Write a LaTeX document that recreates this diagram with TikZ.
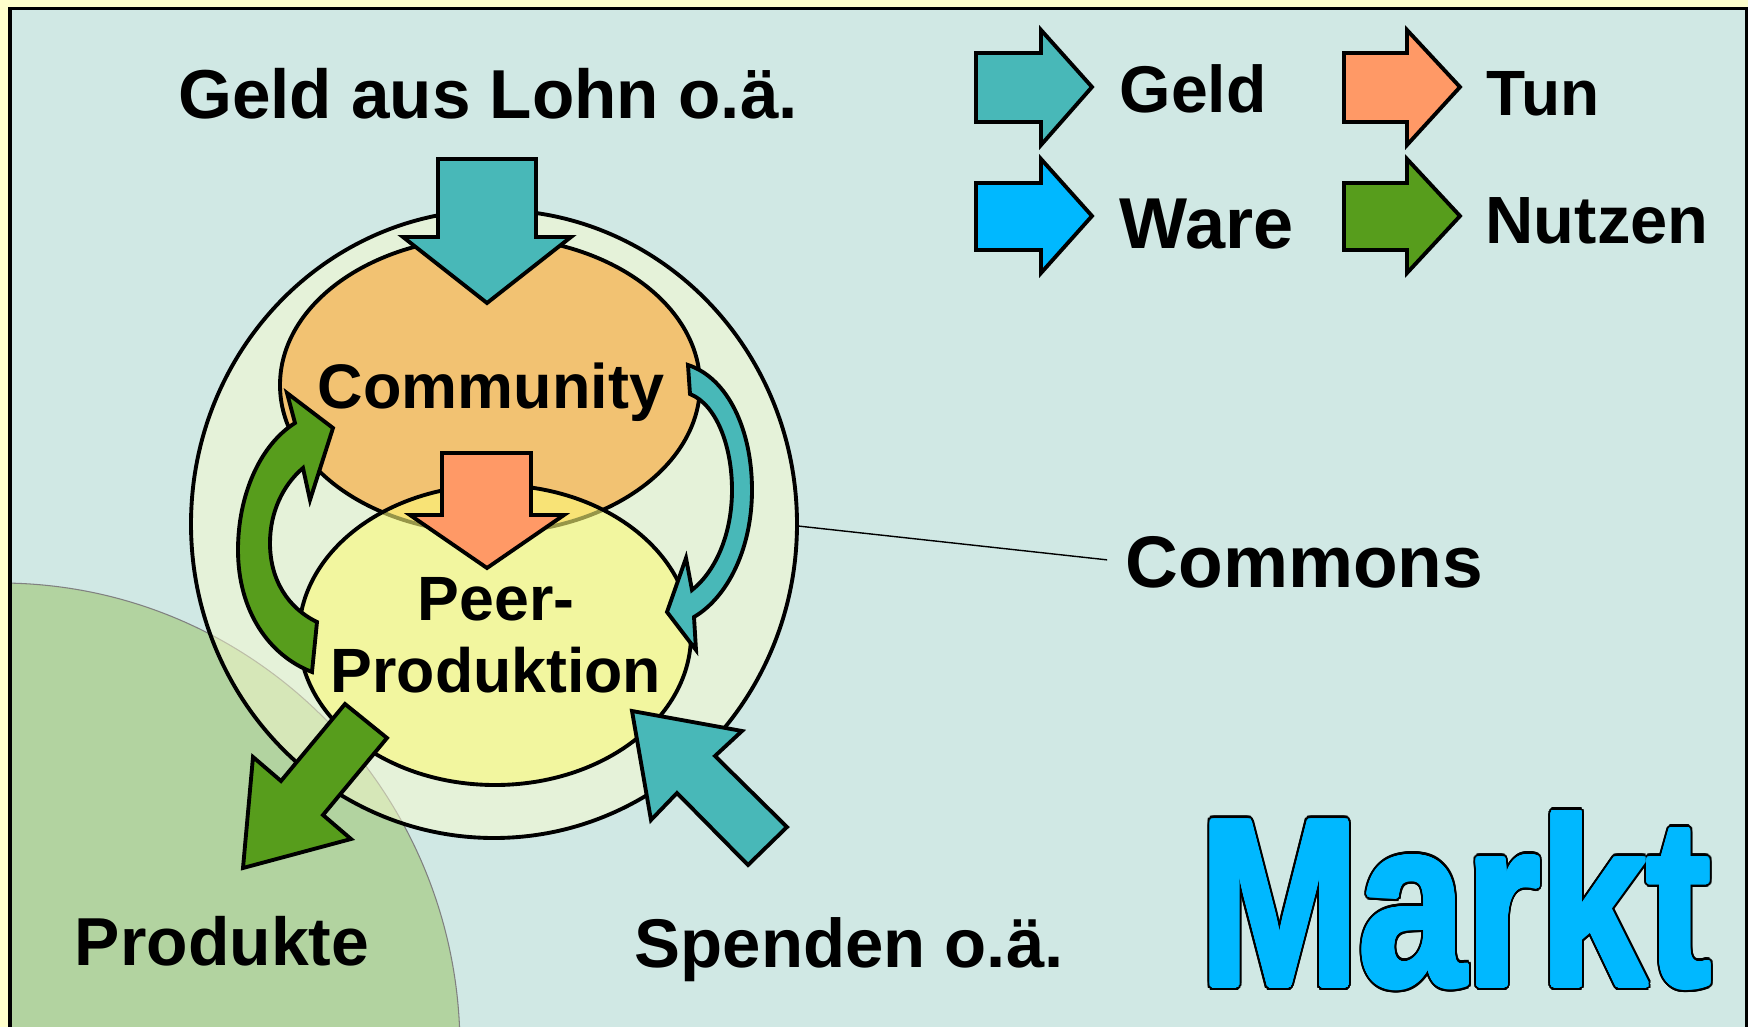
\documentclass[tikz,border=0pt]{standalone}
\usepackage{fontspec}
\setmainfont{Liberation Sans}
\usepackage{graphicx}
\usepackage[copies]{contour}
\contournumber{32}

\definecolor{margin}{HTML}{FFFFCC}
\definecolor{panel}{HTML}{D0E8E4}
\definecolor{geld}{HTML}{48B8B8}
\definecolor{tun}{HTML}{FF9966}
\definecolor{ware}{HTML}{00B8FF}
\definecolor{nutzen}{HTML}{579D1C}
\definecolor{community}{HTML}{F2C272}
\definecolor{peer}{HTML}{FCFA79}
\definecolor{commons}{HTML}{FAFCD0}
\definecolor{produkte}{HTML}{B2D3A0}

\tikzset{
    blockarrow/.style={draw=black, line width=1.1pt},
    outline/.style={draw=black, line width=1.1pt},
    textlabel/.style={inner sep=0pt, anchor=base, font=\fontsize{#1}{#1}\selectfont\bfseries},
}

\begin{document}
\begin{tikzpicture}[x=0.01cm, y=-0.01cm]
    \useasboundingbox (0,0) rectangle (1748,1027);
    \fill[margin] (0,0) rectangle (1748,1027);

    % panel and Produkte area
    \begin{scope}
        \clip (10,8.5) rectangle (1746.5,1027);
        \fill[panel] (10,8.5) rectangle (1746.5,1040);
        \draw[fill=produkte, draw=gray, line width=0.3pt] (0,1048) ellipse [x radius=460, y radius=465];
    \end{scope}
    \draw[line width=0.9pt] (10,1040) -- (10,8.5) -- (1746.5,8.5) -- (1746.5,1040);

    % Commons, Community, Peer-Produktion
    \draw[outline, fill=commons, fill opacity=0.5] (494,524) ellipse [x radius=303, y radius=314];
    \coordinate (commonsedge) at (798,526);
    \draw[outline, fill=community] (490,385) ellipse [x radius=210, y radius=148];
    \draw[outline, fill=peer, fill opacity=0.6] (495,635) ellipse [x radius=196, y radius=150];

    % Tun
    \draw[blockarrow, fill=tun] (442,453) -- (531,453) -- (531,515) -- (564,515) -- (487,568) -- (410,515) -- (442,515) -- cycle;
    % Geld aus Lohn
    \draw[blockarrow, fill=geld] (438,159) -- (536,159) -- (536,237) -- (571,237) -- (487,303) -- (403,237) -- (438,237) -- cycle;

    % Nutzen back to Community
    \draw[blockarrow, fill=nutzen] (312,672) .. controls (268,655) and (238,610) .. (238,550)
        .. controls (238,495) and (260,445) .. (295,423) -- (287,393) -- (333,428) -- (310,500) -- (303,468)
        .. controls (283,485) and (270,512) .. (270,543) .. controls (270,580) and (288,608) .. (317,622) -- cycle;
    % Geld from Community to Peer-Produktion
    \draw[blockarrow, fill=geld] (688,365) .. controls (728,378) and (752,430) .. (752,490)
        .. controls (752,548) and (728,597) .. (694,617) -- (696,650) -- (667,612) -- (686,558) -- (692,590)
        .. controls (717,570) and (732,532) .. (732,490) .. controls (732,447) and (717,405) .. (690,394) -- cycle;

    % Produkte and Spenden
    \draw[blockarrow, fill=nutzen] (345,704) -- (387,738) -- (323,815) -- (351,839) -- (243,868) -- (253,757) -- (281,781) -- cycle;
    \draw[blockarrow, fill=geld] (632,711) -- (742,731) -- (715,756) -- (787,827) -- (748,865) -- (677,793) -- (651,820) -- cycle;

    % labels
    \node[textlabel=19.7] (lohn) at (488,118) {Geld aus Lohn o.ä.};
    \node[textlabel=17.9] (community) at (491,408) {Community};
    \node[inner sep=0pt, align=center, font=\fontsize{17.8}{20.5}\selectfont\bfseries] (peer) at (496,635) {Peer-\\Produktion};
    \node[textlabel=20.8, anchor=base west] (commonstext) at (1125,587) {Commons};
    \draw[line width=0.4pt, shorten >=0.18cm] (commonsedge) -- (commonstext.west);
    \node[textlabel=19.3] (produkte) at (222,965) {Produkte};
    \node[textlabel=19.6, anchor=base west] (spenden) at (634,967) {Spenden o.ä.};

    % legend
    \draw[blockarrow, fill=geld] (976,53) -- (1041,53) -- (1041,30) -- (1092,87) -- (1041,145) -- (1041,122) -- (976,122) -- cycle;
    \draw[blockarrow, fill=tun] (1344,53) -- (1407,53) -- (1407,30) -- (1460,87) -- (1407,145) -- (1407,122) -- (1344,122) -- cycle;
    \draw[blockarrow, fill=ware] (976,183) -- (1041,183) -- (1041,159) -- (1092,216) -- (1041,273) -- (1041,250) -- (976,250) -- cycle;
    \draw[blockarrow, fill=nutzen] (1344,183) -- (1407,183) -- (1407,159) -- (1460,216) -- (1407,273) -- (1407,250) -- (1344,250) -- cycle;
    \node[textlabel=18.8, anchor=base west] (geldkey) at (1119,113) {Geld};
    \node[textlabel=18.2, anchor=base west] (tunkey) at (1486,115) {Tun};
    \node[textlabel=20.5, anchor=base west] (warekey) at (1119,248) {Ware};
    \node[textlabel=19, anchor=base west] (nutzenkey) at (1485,243) {Nutzen};

    % Markt, fattened by a blue contour over a black one
    \node[textlabel=67.5, anchor=base west] (marktrand) at (1199,985) {\scalebox{0.807}[1]{\contourlength{1.6pt}\contour{black}{\textcolor{black}{Markt}}}};
    \node[textlabel=67.5, anchor=base west] (markt) at (1199,985) {\scalebox{0.807}[1]{\contourlength{0.85pt}\contour{ware}{\textcolor{ware}{Markt}}}};
\end{tikzpicture}
\end{document}
